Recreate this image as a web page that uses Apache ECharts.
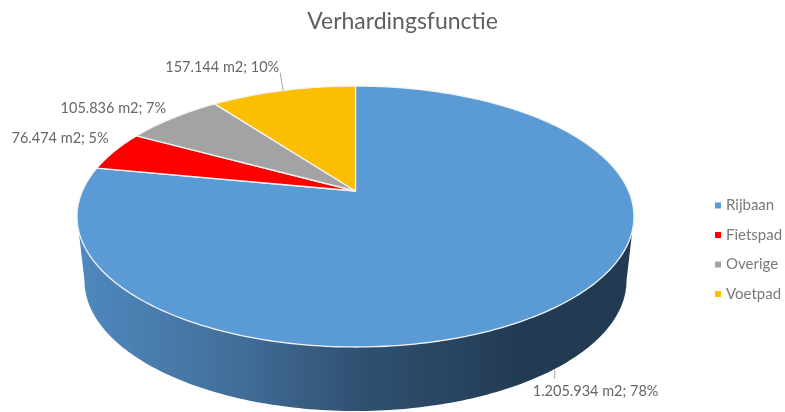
<!DOCTYPE html>
<html>
<head>
<meta charset="utf-8">
<style>html,body{margin:0;padding:0;background:#fff}#c{width:785px;height:412px}</style>
<script src="https://cdn.jsdelivr.net/npm/echarts@6/dist/echarts.min.js"></script>
</head>
<body>
<div id="c"></div>
<script>
var categories = ['Rijbaan', 'Fietspad', 'Overige', 'Voetpad'];
var values = [1205934, 76474, 105836, 157144];
var colors = ['#5B9BD5', '#FF0000', '#A3A3A3', '#FCBE00'];

// layout of the tilted pie (perspective disc projected on screen)
var topDisc = { cx: 355.5, cy: 191, a: 273.1, b: 125.5, k: 0.1955 };
var baseDisc = { cx: 355.5, cy: 255, a: 265.8, b: 125.5, k: 0.1955 };
// label placement relative to the slice's rim point
var labelLayout = [
  { dx: -22, dy: 22, align: 'left', disc: baseDisc, tick: [0, 10] },
  { dx: -6, dy: -13, align: 'right', disc: topDisc },
  { dx: -7, dy: -10, align: 'right', disc: topDisc },
  { dx: -4, dy: -23, align: 'right', disc: topDisc, tick: [-3, -18] }
];

var total = values.reduce(function (s, v) { return s + v; }, 0);

function project(d, deg) {
  var t = deg * Math.PI / 180, u = Math.sin(t), v = Math.cos(t), w = 1 + d.k * v;
  return [d.cx + d.a * u / w, d.cy - d.b * v / w];
}
function arc(d, from, to) {
  var pts = [], n = Math.max(2, Math.ceil(Math.abs(to - from)));
  for (var i = 0; i <= n; i++) pts.push(project(d, from + (to - from) * i / n));
  return pts;
}
function nl(v) { return String(v).replace(/\B(?=(\d{3})+$)/g, '.'); }

function renderSlice(params, api) {
  var idx = params.seriesIndex, value = api.value(0), start = 0;
  for (var i = 0; i < idx; i++) start += values[i];
  var a0 = start / total * 360, a1 = (start + value) / total * 360, mid = (a0 + a1) / 2;
  var children = [];
  if (idx === 0) {
    // side wall: the front of the disc, between the two horizontal extremes
    var ext = Math.acos(-topDisc.k) * 180 / Math.PI;
    var wall = arc(topDisc, ext, 360 - ext).concat(arc(baseDisc, 360 - ext, ext));
    children.push({
      type: 'polygon', shape: { points: wall },
      style: {
        fill: new echarts.graphic.LinearGradient(0, 0, 1, 0, [
          { offset: 0, color: '#4F89BF' },
          { offset: 0.28, color: '#426F9A' },
          { offset: 0.52, color: '#304F70' },
          { offset: 0.80, color: '#223B52' },
          { offset: 1, color: '#223B52' }
        ])
      }
    });
  }
  children.push({
    type: 'polygon',
    shape: { points: [[topDisc.cx, topDisc.cy]].concat(arc(topDisc, a0, a1)) },
    style: { fill: colors[idx], stroke: '#F2F2F2', lineWidth: 1.3, lineJoin: 'round' }
  });
  var l = labelLayout[idx], rim = project(l.disc, mid);
  if (l.tick) {
    children.push({
      type: 'line',
      shape: { x1: rim[0], y1: rim[1], x2: rim[0] + l.tick[0], y2: rim[1] + l.tick[1] },
      style: { stroke: '#A6A6A6', lineWidth: 1 }
    });
  }
  children.push({
    type: 'text',
    style: {
      x: rim[0] + l.dx, y: rim[1] + l.dy,
      text: nl(value) + ' m2; ' + Math.round(value / total * 100) + '%',
      textAlign: l.align, textVerticalAlign: 'middle',
      fill: '#666666', font: '14.5px Lato'
    }
  });
  return { type: 'group', children: children };
}

var chart = echarts.init(document.getElementById('c'), null, { renderer: 'canvas' });
chart.setOption({
  animation: false,
  backgroundColor: '#fff',
  title: {
    text: 'Verhardingsfunctie', left: 397.5, top: 5, textAlign: 'center',
    textStyle: { fontFamily: 'Lato', fontSize: 23, fontWeight: 'normal', color: '#5f5f5f' }
  },
  legend: {
    data: categories, orient: 'vertical', left: 710, top: 193, itemWidth: 6, itemHeight: 6,
    itemGap: 14.5, icon: 'rect', selectedMode: false,
    textStyle: { fontFamily: 'Lato', fontSize: 15, color: '#7a7a7a' }
  },
  series: categories.map(function (name, i) {
    return {
      type: 'custom', name: name, coordinateSystem: 'none', silent: true,
      itemStyle: { color: colors[i] },
      renderItem: renderSlice,
      data: [[values[i]]]
    };
  })
});
</script>
</body>
</html>
